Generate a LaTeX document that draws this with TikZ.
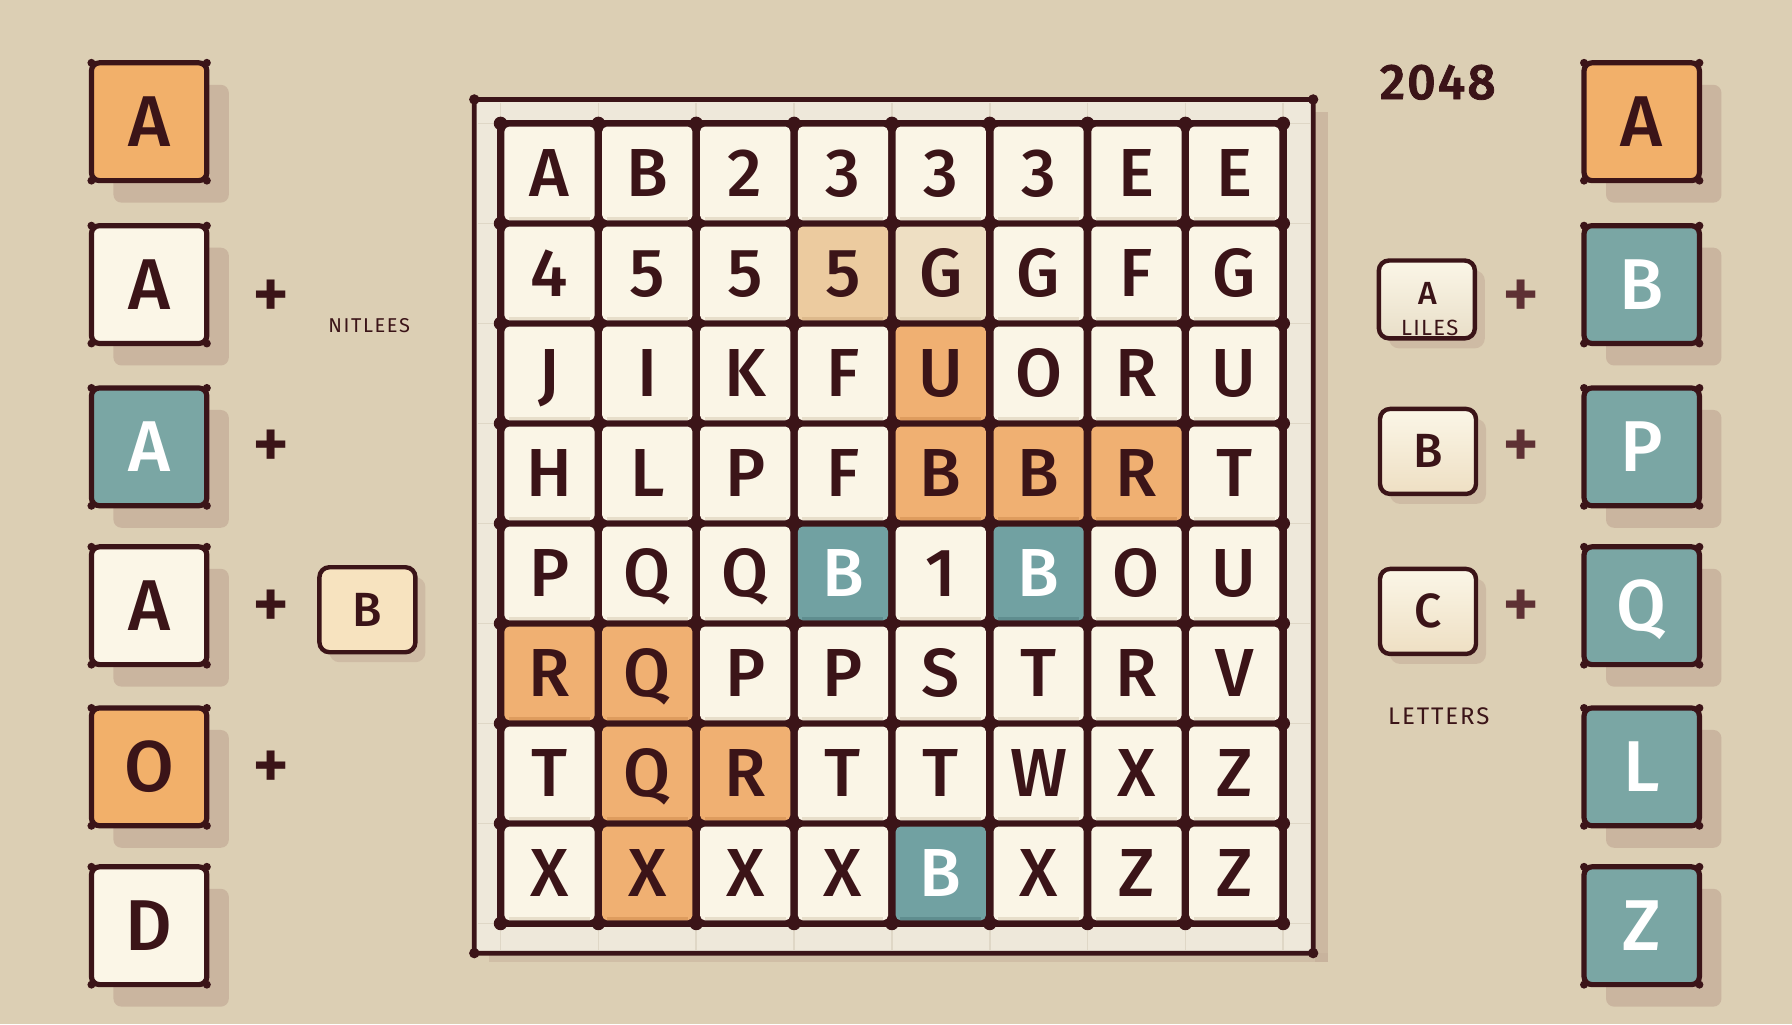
\documentclass[tikz,border=0pt]{standalone}
\usepackage{fontspec}
\setmainfont{Fira Sans}[BoldFont={* Medium}]
\usetikzlibrary{shadows}
\definecolor{bg}{HTML}{DCCFB4}
\definecolor{ink}{HTML}{3B1418}
\definecolor{shad}{HTML}{C6AF9A}
\definecolor{panel}{HTML}{EEE8DA}
\definecolor{pline}{HTML}{DFD7C6}
\definecolor{sideo}{HTML}{F2B06A}
\definecolor{sidec}{HTML}{FBF6E7}
\definecolor{sidet}{HTML}{7AA6A4}
\definecolor{cello}{HTML}{F0B072}
\definecolor{cellc}{HTML}{FAF5E6}
\definecolor{cellt}{HTML}{71A1A2}
\definecolor{celln}{HTML}{ECCB9F}
\definecolor{celll}{HTML}{EEDFC3}
\definecolor{edgeo}{HTML}{DE9C5E}
\definecolor{edgec}{HTML}{E7DECA}
\definecolor{edget}{HTML}{5F8D8F}
\definecolor{edgen}{HTML}{DDB98C}
\definecolor{edgel}{HTML}{E2D2B4}
\colorlet{txto}{ink}
\colorlet{txtc}{ink}
\colorlet{txtn}{ink}
\colorlet{txtl}{ink}
\colorlet{txtt}{white}
\definecolor{peach}{HTML}{F7E3BF}
\definecolor{plusr}{HTML}{5E3034}
\tikzset{
  sidetile/.style={draw=ink, line width=2.6pt, rounded corners=4pt, outer sep=0pt,
    minimum width=57.7pt, minimum height=58.9pt, inner sep=0pt,
    text height=24.8pt, text depth=0pt,
    font=\fontsize{36}{36}\selectfont\bfseries,
    drop shadow={shadow xshift=11pt, shadow yshift=-11pt, fill=shad, opacity=0.8}},
  smalltile/.style={draw=ink, line width=2.2pt, rounded corners=5pt,
    minimum width=48pt, minimum height=42.5pt, inner sep=0pt,
    text height=16.5pt, text depth=0pt, text=ink,
    font=\fontsize{24}{24}\selectfont\bfseries,
    drop shadow={shadow xshift=5pt, shadow yshift=-5pt, fill=shad, opacity=0.6}},
  gridtile/.style={minimum width=45.1pt, minimum height=46.9pt,
    rounded corners=2.5pt, inner sep=0pt,
    text height=23.4pt, text depth=0pt,
    font=\fontsize{34}{34}\selectfont\bfseries},
  plussign/.style={inner sep=0pt, font=\fontsize{36}{36}\selectfont\bfseries},
  label/.style={inner sep=0pt, text=ink}
}
\begin{document}
\begin{tikzpicture}[x=0.5714286pt,y=-0.5714286pt]
\fill[bg] (0,0) rectangle (1568,896);
\useasboundingbox (0,0) rectangle (1568,896);

% ---------- board frame ----------
\fill[shad,opacity=.7] (1151,98) rectangle (1162,842);
\fill[shad,opacity=.5] (428,834) rectangle (1162,842);
\draw[ink,line width=2.4pt,fill=panel,rounded corners=2pt] (415,87) rectangle (1149,834);
\foreach \i in {0,...,8} {
  \draw[pline,line width=0.8pt] ({438+85.6*\i},90) -- ({438+85.6*\i},831);
}
\foreach \j in {0,...,8} {
  \draw[pline,line width=0.8pt] (418,{108+87.5*\j}) -- (1146,{108+87.5*\j});
}
\foreach \px/\py in {415/87,1149/87,415/834,1149/834} {
  \fill[ink] (\px,\py) circle (2.6pt);
}
\fill[ink,rounded corners=2pt] (435,105) rectangle (1126,811);

% ---------- grid tiles ----------
\foreach \row [count=\r from 0] in {
  {A/c,B/c,2/c,3/c,3/c,3/c,E/c,E/c},
  {4/c,5/c,5/c,5/n,G/l,G/c,F/c,G/c},
  {J/c,I/c,K/c,F/c,U/o,O/c,R/c,U/c},
  {H/c,L/c,P/c,F/c,B/o,B/o,R/o,T/c},
  {P/c,Q/c,Q/c,B/t,1/c,B/t,O/c,U/c},
  {R/o,Q/o,P/c,P/c,S/c,T/c,R/c,V/c},
  {T/c,Q/o,R/o,T/c,T/c,W/c,X/c,Z/c},
  {X/c,X/o,X/c,X/c,B/t,X/c,Z/c,Z/c}} {
  \foreach \t/\f [count=\c from 0] in \row {
    \node[gridtile, fill=cell\f, text=txt\f] (g\r\c) at ({480.8+85.6*\c},{151.75+87.5*\r}) {\t};
    \draw[line width=1.6pt, edge\f] ([xshift=2.5pt,yshift=1.3pt]g\r\c.south west) -- ([xshift=-2.5pt,yshift=1.3pt]g\r\c.south east);
  }
}
\foreach \i in {0,...,8} {
  \foreach \j in {0,...,8} {
    \fill[ink] ({438+85.6*\i},{108+87.5*\j}) circle (3.4pt);
  }
}

% ---------- left column ----------
\foreach \n/\y/\f/\t in {1/106.5/o/A,2/249/c/A,3/391/t/A,4/530/c/A,5/671/o/O,6/810/c/D} {
  \node[sidetile, fill=side\f, text=txt\f] (L\n) at (130.5,\y) {\t};
  \foreach \a in {north west,north east,south west,south east} {
    \fill[ink] (L\n.\a) circle (2pt);
  }
}
% ---------- right column ----------
\foreach \n/\y/\f/\t in {1/106.5/o/A,2/249/t/B,3/391/t/P,4/530/t/Q,5/671/t/L,6/810/t/Z} {
  \node[sidetile, fill=side\f, text=txt\f] (R\n) at (1436.5,\y) {\t};
  \foreach \a in {north west,north east,south west,south east} {
    \fill[ink] (R\n.\a) circle (2pt);
  }
}

% ---------- left small items ----------
\node[plussign, text=ink] (P1) at (237,262) {+};
\node[plussign, text=ink] (P2) at (237,393) {+};
\node[plussign, text=ink] (P3) at (237,533) {+};
\node[plussign, text=ink] (P4) at (237,674) {+};
\node[label, font=\fontsize{10}{10}\selectfont\addfontfeature{LetterSpace=8}] (nit) at (323,285) {NITLEES};
\node[smalltile, fill=peach] (LB) at (321.5,533.5) {B};

% ---------- right small items ----------
\node[label, font=\fontsize{25}{25}\selectfont\bfseries\addfontfeature{LetterSpace=4,FakeBold=1.5}] (num) at (1258,72) {2048};
\node[smalltile, minimum height=38.9pt, top color=sidec, bottom color=bg!60!sidec, text height=0pt] (RA) at (1248.5,262) {};
\node[label, font=\fontsize{16}{16}\selectfont\bfseries] (RAa) at (1249,257) {A};
\node[label, font=\fontsize{11}{11}\selectfont\addfontfeature{LetterSpace=6}] (RAl) at (1251,287) {LILES};
\node[smalltile, top color=sidec, bottom color=celll] (RB) at (1249.5,395) {B};
\node[smalltile, top color=sidec, bottom color=celll] (RC) at (1249.5,535) {C};
\node[plussign, text=plusr] (P5) at (1331,262) {+};
\node[plussign, text=plusr] (P6) at (1331,393) {+};
\node[plussign, text=plusr] (P7) at (1331,533) {+};
\node[label, font=\fontsize{12}{12}\selectfont\addfontfeature{LetterSpace=8}] (let) at (1259,627) {LETTERS};
\end{tikzpicture}
\end{document}
